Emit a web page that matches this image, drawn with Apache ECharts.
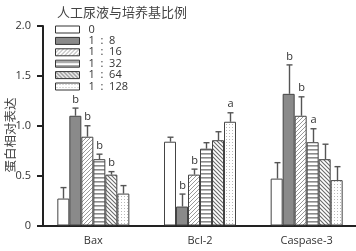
<!DOCTYPE html>
<html>
<head>
<meta charset="utf-8">
<script src="https://cdn.jsdelivr.net/npm/echarts@6/dist/echarts.min.js"></script>
<style>
  html, body { margin: 0; padding: 0; background: #fff; }
  #chart { width: 356px; height: 251px; }
</style>
</head>
<body>
<div id="chart"></div>
<script>
const genes = ['Bax', 'Bcl-2', 'Caspase-3'];
const ratios = ['0', '1  :  8', '1  :  16', '1  :  32', '1  :  64', '1  :  128'];

// mean relative expression, one array per ratio (Bax, Bcl-2, Caspase-3)
const mean0 = [0.27, 0.84, 0.47];
const mean8 = [1.10, 0.19, 1.32];
const mean16 = [0.89, 0.51, 1.10];
const mean32 = [0.665, 0.77, 0.835];
const mean64 = [0.51, 0.855, 0.665];
const mean128 = [0.32, 1.04, 0.455];

// upper error (SD)
const err0 = [0.11, 0.045, 0.16];
const err8 = [0.077, 0.125, 0.29];
const err16 = [0.11, 0.055, 0.19];
const err32 = [0.05, 0.06, 0.135];
const err64 = [0.03, 0.085, 0.15];
const err128 = [0.08, 0.09, 0.135];

// significance letters
const sig0 = ['', '', ''];
const sig8 = ['b', 'b', 'b'];
const sig16 = ['b', 'b', 'b'];
const sig32 = ['b', '', 'a'];
const sig64 = ['b', '', ''];
const sig128 = ['', 'a', ''];

const yTicks = [0, 0.5, 1.0, 1.5, 2.0];

const means = [mean0, mean8, mean16, mean32, mean64, mean128];
const errs = [err0, err8, err16, err32, err64, err128];
const sigs = [sig0, sig8, sig16, sig32, sig64, sig128];

function makePattern(size, draw) {
  const c = document.createElement('canvas');
  c.width = size; c.height = size;
  const ctx = c.getContext('2d');
  ctx.fillStyle = '#fff';
  ctx.fillRect(0, 0, size, size);
  draw(ctx, size);
  return { image: c, repeat: 'repeat' };
}

const fwdHatch = makePattern(4, (ctx, s) => {
  ctx.strokeStyle = '#999'; ctx.lineWidth = 1;
  ctx.beginPath();
  ctx.moveTo(0, s); ctx.lineTo(s, 0);
  ctx.moveTo(-1, 1); ctx.lineTo(1, -1);
  ctx.moveTo(s - 1, s + 1); ctx.lineTo(s + 1, s - 1);
  ctx.stroke();
});
const horizLines = makePattern(4, (ctx, s) => {
  ctx.fillStyle = '#8c8c8c';
  ctx.fillRect(0, 1, s, 1.6);
});
const backHatch = makePattern(4, (ctx, s) => {
  ctx.strokeStyle = '#6a6a6a'; ctx.lineWidth = 1.1;
  ctx.beginPath();
  ctx.moveTo(0, 0); ctx.lineTo(s, s);
  ctx.moveTo(s - 1, -1); ctx.lineTo(s + 1, 1);
  ctx.moveTo(-1, s - 1); ctx.lineTo(1, s + 1);
  ctx.stroke();
});
const dots = makePattern(3, (ctx) => {
  ctx.fillStyle = '#b8b8b8';
  ctx.fillRect(1, 1, 1, 1);
});

const fills = ['#ffffff', '#8a8a8a', fwdHatch, horizLines, backHatch, dots];
const barW = 12;

const series = [];
ratios.forEach((name, i) => {
  series.push({
    name: name,
    type: 'bar',
    data: means[i],
    barWidth: barW,
    barGap: '0%',
    itemStyle: { color: fills[i], borderColor: '#444', borderWidth: 1 },
    z: 2
  });
});
ratios.forEach((name, i) => {
  series.push({
    name: 'err' + i,
    type: 'custom',
    z: 3,
    data: genes.map((g, k) => [k, means[i][k], means[i][k] + errs[i][k]]),
    renderItem: (params, api) => {
      const base = api.coord([api.value(0), api.value(1)]);
      const top = api.coord([api.value(0), api.value(2)]);
      const x = Math.round(base[0] + (i - 2.5) * barW) + 0.5;
      const children = [
        { type: 'line', shape: { x1: x, y1: base[1], x2: x, y2: top[1] },
          style: { stroke: '#555', lineWidth: 1.4 } },
        { type: 'line', shape: { x1: x - 3, y1: top[1], x2: x + 3, y2: top[1] },
          style: { stroke: '#555', lineWidth: 1.4 } }
      ];
      const letter = sigs[i][params.dataIndex];
      if (letter) {
        children.push({ type: 'text', style: {
          text: letter, x: x, y: top[1] - 3, align: 'center', verticalAlign: 'bottom',
          fill: '#333', font: '11px "Open Sans", sans-serif' } });
      }
      return { type: 'group', children: children };
    }
  });
});

const chart = echarts.init(document.getElementById('chart'), null, { renderer: 'canvas' });
chart.setOption({
  animation: false,
  backgroundColor: '#fff',
  title: {
    text: '人工尿液与培养基比例',
    left: 57, top: 6, padding: 0,
    textStyle: { fontSize: 13, fontWeight: 'normal', color: '#444',
      fontFamily: '"Noto Sans CJK SC", sans-serif' }
  },
  legend: {
    data: ratios,
    orient: 'vertical',
    left: 55, top: 24, padding: 0,
    icon: 'rect',
    itemWidth: 24, itemHeight: 7,
    itemGap: 0.4,
    textStyle: { fontSize: 11, color: '#333', lineHeight: 10, padding: [0, 0, 0, 4],
      fontFamily: '"Open Sans", sans-serif' },
    itemStyle: { borderColor: '#333', borderWidth: 1 }
  },
  graphic: [{
    type: 'text',
    x: 10, y: 135,
    rotation: Math.PI / 2,
    style: { text: '蛋白相对表达', align: 'center', verticalAlign: 'middle',
      fill: '#444', font: '12.5px "Noto Sans CJK SC", sans-serif' }
  }],
  grid: { left: 40, right: -4, top: 26, bottom: 25.5, outerBoundsMode: 'none' },
  xAxis: {
    type: 'category',
    data: genes,
    axisLine: { lineStyle: { color: '#222', width: 2 } },
    axisTick: { alignWithLabel: true, length: 6, lineStyle: { color: '#222', width: 2 } },
    axisLabel: { margin: 10, fontSize: 11, color: '#333', fontFamily: '"Open Sans", sans-serif' }
  },
  yAxis: {
    type: 'value',
    min: yTicks[0], max: yTicks[yTicks.length - 1], interval: 0.5,
    offset: -3,
    axisLine: { show: true, lineStyle: { color: '#222', width: 2 } },
    axisTick: { show: true, length: 6, lineStyle: { color: '#222', width: 2 } },
    splitLine: { show: false },
    axisLabel: { margin: 12, fontSize: 11, color: '#333', fontFamily: '"Open Sans", sans-serif',
      formatter: v => (v === 0 ? '0' : v.toFixed(1)) }
  },
  series: series
});
</script>
</body>
</html>
